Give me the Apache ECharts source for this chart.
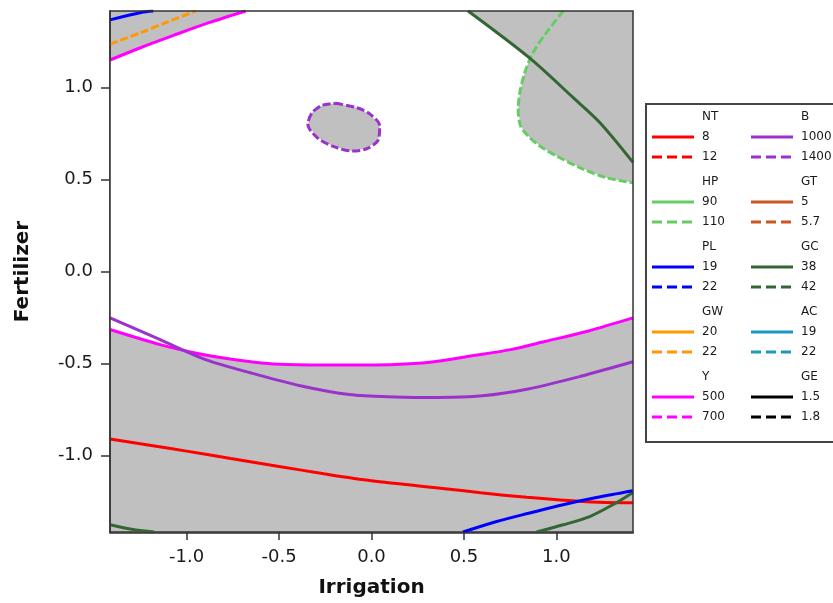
<!DOCTYPE html>
<html><head><meta charset="utf-8">
<script src="https://cdn.jsdelivr.net/npm/echarts@6/dist/echarts.min.js"></script>
<style>html,body{margin:0;padding:0;background:#fff}#c{width:833px;height:603px}</style>
</head><body><div id="c"></div>
<script>
// ---- data ----
const xTicks = [-1.0, -0.5, 0.0, 0.5, 1.0];
const yTicks = [-1.0, -0.5, 0.0, 0.5, 1.0];
const axisMin = -1.414, axisMax = 1.414;

const NT8 = [[-1.414,-0.909],[-1.156,-0.95],[-1.0,-0.975],[-0.761,-1.015],[-0.5,-1.058],[-0.258,-1.098],[0.0,-1.136],[0.41,-1.18],[0.59,-1.201],[0.84,-1.226],[1.02,-1.24],[1.23,-1.252],[1.414,-1.255]];
const HP110 = [[1.037,1.414],[0.946,1.297],[0.874,1.189],[0.829,1.080],[0.802,0.971],[0.793,0.880],[0.806,0.790],[0.847,0.735],[0.910,0.681],[1.0,0.627],[1.126,0.564],[1.269,0.509],[1.414,0.482]];
const GC38Top = [[0.522,1.414],[0.856,1.158],[1.088,0.946],[1.233,0.81],[1.414,0.592]];
const GC38BotLeft = [[-1.414,-1.375],[-1.282,-1.402],[-1.175,-1.414]];
const GC38BotRight = [[0.892,-1.414],[1.036,-1.375],[1.18,-1.33],[1.305,-1.266],[1.414,-1.199]];
const PL19Top = [[-1.414,1.366],[-1.246,1.406],[-1.18,1.414]];
const PL19Bot = [[0.495,-1.414],[0.677,-1.357],[0.856,-1.311],[1.036,-1.266],[1.216,-1.227],[1.414,-1.19]];
const GW22 = [[-1.414,1.234],[-1.246,1.297],[-1.102,1.355],[-0.95,1.414]];
const Y500Top = [[-1.414,1.148],[-1.246,1.216],[-1.067,1.283],[-0.887,1.348],[-0.68,1.414]];
const Y500Low = [[-1.414,-0.315],[-1.143,-0.397],[-0.953,-0.442],[-0.764,-0.475],[-0.594,-0.497],[-0.461,-0.505],[-0.17,-0.508],[0.127,-0.505],[0.316,-0.493],[0.563,-0.455],[0.752,-0.424],[0.942,-0.379],[1.169,-0.324],[1.414,-0.252]];
const B1000 = [[-1.414,-0.252],[-1.143,-0.37],[-0.897,-0.478],[-0.65,-0.551],[-0.385,-0.62],[-0.12,-0.668],[0.127,-0.681],[0.36,-0.684],[0.6,-0.675],[0.847,-0.638],[1.131,-0.569],[1.414,-0.49]];
const B1400 = [[-0.196,0.913],[-0.078,0.889],[-0.006,0.853],[0.044,0.790],[0.038,0.717],[-0.024,0.667],[-0.105,0.654],[-0.204,0.678],[-0.294,0.727],[-0.344,0.799],[-0.321,0.862],[-0.267,0.902],[-0.196,0.913]];

// legend content
const legNames  = ['NT','HP','PL','GW','Y','B','GT','GC','AC','GE'];
const legLevels = [['8','12'],['90','110'],['19','22'],['20','22'],['500','700'],['1000','1400'],['5','5.7'],['38','42'],['19','22'],['1.5','1.8']];
const legColors = ['#FF0000','#66CC66','#0000FF','#FF9900','#FF00FF','#9933CC','#CC5522','#336633','#1A9AC0','#000000'];

// ---- chart ----
const cNT = legColors[0], cHP = legColors[1], cPL = legColors[2], cGW = legColors[3], cY = legColors[4], cB = legColors[5], cGC = legColors[7];
const GRAY = '#C0C0C0';
const TXT = '#1a1a1a';
const FONT = 'DejaVu Sans';

// feasible (white) region built from the boundary contours
const feasible = [].concat(
  Y500Top,
  GC38Top.slice(0, 2),
  HP110.slice(3),
  [[1.414, HP110[HP110.length-1][1]]],
  Y500Low.slice().reverse()
);

function polySeries(points, fill, z) {
  return {
    type: 'custom', coordinateSystem: 'cartesian2d', data: [[0, 0]], clip: true, silent: true, z: z,
    renderItem: function (params, api) {
      return { type: 'polygon', shape: { points: points.map(p => api.coord(p)) }, style: { fill: fill } };
    }
  };
}
function lineSeries(data, color, dashed) {
  return {
    type: 'line', data: data, showSymbol: false, symbol: 'none', smooth: 0.3, z: 3, silent: true,
    lineStyle: { color: color, width: 3, type: dashed ? [8, 3] : 'solid' }
  };
}

const chart = echarts.init(document.getElementById('c'));

const graphics = [];
// plot frame
graphics.push({ type: 'rect', z: 100, shape: { x: 110, y: 11, width: 523, height: 522 }, style: { fill: 'none', stroke: '#333', lineWidth: 1.5 } });
// legend box
graphics.push({ type: 'rect', z: 100, shape: { x: 646, y: 104, width: 200, height: 338 }, style: { fill: '#fff', stroke: '#444', lineWidth: 2 } });
for (let i = 0; i < legNames.length; i++) {
  const col = Math.floor(i / 5), row = i % 5;
  const lx = 652 + col * 99, tx = 702 + col * 99;
  const ty = 117 + row * 65;
  graphics.push({ type: 'text', z: 101, style: { x: tx, y: ty, text: legNames[i], fill: TXT, font: '12px "' + FONT + '"', verticalAlign: 'middle' } });
  for (let k = 0; k < 2; k++) {
    const yy = ty + 20 * (k + 1);
    graphics.push({ type: 'line', z: 101, shape: { x1: lx, y1: yy, x2: lx + 42, y2: yy }, style: { stroke: legColors[i], lineWidth: 3, lineDash: k ? [10, 5] : null } });
    graphics.push({ type: 'text', z: 101, style: { x: tx, y: yy, text: legLevels[i][k], fill: TXT, font: '12px "' + FONT + '"', verticalAlign: 'middle' } });
  }
}

chart.setOption({
  animation: false,
  backgroundColor: '#fff',
  grid: { left: 110, right: 200, top: 11, bottom: 70, show: true, backgroundColor: GRAY, borderWidth: 0 },
  xAxis: {
    type: 'value', min: axisMin, max: axisMax,
    name: 'Irrigation', nameLocation: 'middle', nameGap: 46,
    nameTextStyle: { fontFamily: FONT, fontWeight: 'bold', fontSize: 20, color: '#111' },
    axisLine: { show: true, onZero: false, lineStyle: { color: '#333', width: 1.5 } },
    splitLine: { show: false },
    axisTick: { show: true, length: 8, customValues: xTicks, lineStyle: { color: '#333', width: 1.5 } },
    axisLabel: { customValues: xTicks, formatter: v => v.toFixed(1), fontFamily: FONT, fontSize: 18, color: TXT, margin: 16 }
  },
  yAxis: {
    type: 'value', min: axisMin, max: axisMax,
    name: 'Fertilizer', nameLocation: 'middle', nameGap: 77,
    nameTextStyle: { fontFamily: FONT, fontWeight: 'bold', fontSize: 20, color: '#111' },
    axisLine: { show: true, onZero: false, lineStyle: { color: '#333', width: 1.5 } },
    splitLine: { show: false },
    axisTick: { show: true, length: 9, customValues: yTicks, lineStyle: { color: '#333', width: 1.5 } },
    axisLabel: { customValues: yTicks, formatter: v => v.toFixed(1), fontFamily: FONT, fontSize: 18, color: TXT, margin: 17 }
  },
  graphic: graphics,
  series: [
    polySeries(feasible, '#FFFFFF', 1),
    polySeries(B1400, GRAY, 2),
    lineSeries(NT8, cNT, false),
    lineSeries(HP110, cHP, true),
    lineSeries(GC38Top, cGC, false),
    lineSeries(GC38BotLeft, cGC, false),
    lineSeries(GC38BotRight, cGC, false),
    lineSeries(PL19Top, cPL, false),
    lineSeries(PL19Bot, cPL, false),
    lineSeries(GW22, cGW, true),
    lineSeries(Y500Top, cY, false),
    lineSeries(Y500Low, cY, false),
    lineSeries(B1000, cB, false),
    lineSeries(B1400, cB, true)
  ]
});
</script></body></html>
